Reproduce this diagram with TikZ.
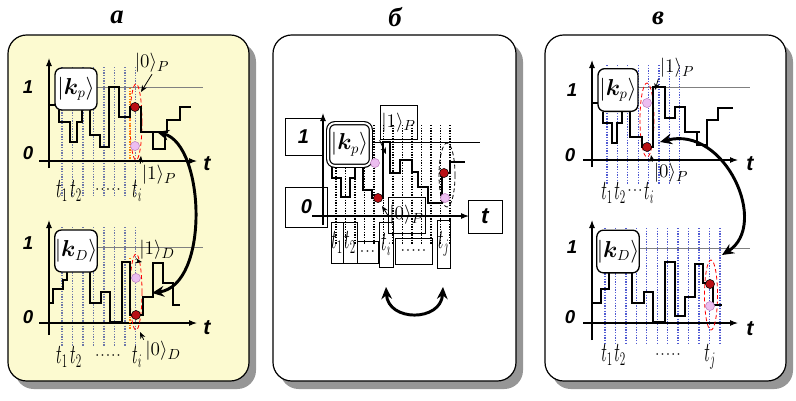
\documentclass[tikz,border=0pt]{standalone}
\usepackage{fontspec}
\usepackage{amsmath}
\usepackage{bm}
\usepackage{graphicx}
\usetikzlibrary{positioning,arrows.meta}
\newfontfamily\cyrfont{Liberation Serif}
\newfontfamily\axfont{Liberation Sans}
\definecolor{paneyellow}{RGB}{252,250,208}
\definecolor{dotred}{RGB}{185,15,20}
\definecolor{dotpink}{RGB}{236,190,240}
\definecolor{gridblue}{RGB}{80,90,210}
\definecolor{gridgray}{RGB}{110,120,170}
\definecolor{shadegray}{RGB}{150,150,150}
\newcommand{\tslot}[1]{\scalebox{0.58}[1]{$t_{#1}$}}
\newcommand{\dotrow}{{\fontsize{13}{15}\selectfont$\cdot\!\cdot\!\cdot\!\cdot\!\cdot$}}
\begin{document}
\begin{tikzpicture}[x=0.75pt,y=-0.75pt,
  panel/.style={draw=black,line width=0.9pt,rounded corners=14pt},
  panelshadow/.style={fill=shadegray,rounded corners=14pt},
  paneltitle/.style={font=\cyrfont\bfseries\itshape\fontsize{20}{24}\selectfont},
  axlab/.style={font=\axfont\bfseries\itshape\fontsize{14}{16}\selectfont},
  taxlab/.style={font=\axfont\bfseries\itshape\fontsize{16}{18}\selectfont},
  tickfont/.style={font=\fontsize{20}{22}\selectfont,inner sep=0pt},
  ketlab/.style={font=\fontsize{15}{17}\selectfont,inner sep=1pt},
  kbox/.style={draw,fill=white,line width=1pt,rounded corners=5pt,
    minimum width=31.5pt,minimum height=31.5pt,inner sep=0pt,font=\fontsize{16}{18}\selectfont},
  pulse/.style={line width=1.6pt},
  taxis/.style={-{Latex[length=6pt,width=4.5pt]},line width=0.8pt},
  onelevel/.style={gray,line width=0.5pt},
  slotline/.style={densely dotted,line width=1pt},
  winmark/.style={red,densely dashed,line width=0.6pt},
  reddot/.style={circle,draw=black,line width=0.4pt,fill=dotred,minimum size=6.8pt,inner sep=0pt},
  pinkdot/.style={circle,draw=violet!50,line width=0.4pt,fill=dotpink,minimum size=6.8pt,inner sep=0pt},
  ketarrow/.style={-{Stealth[length=5pt,width=4pt]},line width=0.6pt},
  swaparrow/.style={{Stealth[length=9pt,width=8pt]}-{Stealth[length=9pt,width=8pt]},line width=2.2pt},
  sbox/.style={draw,line width=0.6pt,inner sep=0pt}]
\useasboundingbox (0,0) rectangle (796,400);

% ---------- panel a
\fill[panelshadow] (15,43) rectangle (256,389);
\draw[panel,fill=paneyellow] (8,35) rectangle (249,381);
\node[paneltitle] (ta) at (117,17) {а};

% upper plot
\foreach \x in {62,72.5,...,136} \draw[slotline,gridgray] (\x,67) -- (\x,197);
\draw[onelevel] (97,87) -- (203,87);
\draw[taxis] (49,168) -- (49,58);
\draw[taxis] (39,161) -- (197,161);
\node[axlab] (a1u) at (28,87) {1};
\node[axlab] (a0u) at (28,153) {0};
\node[taxlab] (atu) at (207,164) {t};
\draw[winmark] (136,122) ellipse [x radius=6,y radius=38];
\draw[orange,densely dotted,line width=1pt] (130,88) -- (130,160);
\draw[pulse] (49,105) -- (56,105);
\draw[pulse] (59,110) -- (59,122) -- (70,122) -- (70,142) -- (77,142) -- (77,122) -- (82,122) -- (82,110);
\draw[pulse] (90,110) -- (90,135) -- (100,135) -- (100,147) -- (109,147) -- (109,87) -- (119,87)
  -- (119,117) -- (130,117) -- (130,107) -- (141,107) -- (141,132) -- (167,132) -- (167,120)
  -- (180,120) -- (180,107) -- (191,107);
\draw[pulse] (153,132) -- (153,149) -- (165,149) -- (165,132);
\node[kbox] (kpa) at (76,89) {$|\bm{k}_{p}\rangle$};
\node[reddot] (ra) at (135,107) {};
\node[pinkdot] (pa) at (135,146) {};
\node[ketlab] (za) at (152,63) {$|0\rangle_{P}$};
\node[ketlab] (oa) at (159,175) {$|1\rangle_{P}$};
\coordinate (zat) at (141,92);
\coordinate (oat) at (141,156);
\draw[ketarrow] (za.south) -- (zat);
\draw[ketarrow] (oa.north west) -- (oat);
\node[tickfont] (t1a) at (62,191) {\tslot{1}};
\node[tickfont] (t2a) at (76,191) {\tslot{2}};
\node[tickfont] (dta) at (108,190) {\dotrow};
\node[tickfont] (tia) at (137,191) {\tslot{i}};

% lower plot
\foreach \x in {62,72.5,...,136} \draw[slotline,gridgray] (\x,227) -- (\x,347);
\draw[onelevel] (93,247) -- (203,247);
\draw[taxis] (49,335) -- (49,220);
\draw[taxis] (39,323) -- (197,323);
\node[axlab] (a1d) at (28,243) {1};
\node[axlab] (a0d) at (28,317) {0};
\node[taxlab] (atd) at (207,328) {t};
\draw[winmark] (136,292) ellipse [x radius=6,y radius=38];
\draw[orange,densely dotted,line width=1pt] (130,258) -- (130,330);
\draw[pulse] (49,303) -- (53,303) -- (53,289) -- (63,289) -- (63,280) -- (67,280) -- (67,272);
\draw[pulse] (90,272) -- (90,303) -- (101,303) -- (101,292) -- (110,292) -- (110,322) -- (122,322)
  -- (122,262) -- (130,262) -- (130,315) -- (143,315) -- (143,297) -- (153,297) -- (153,263)
  -- (163,263) -- (163,283) -- (173,283) -- (173,305) -- (180,305);
\node[kbox] (kda) at (76,251) {$|\bm{k}_{D}\rangle$};
\node[pinkdot] (pd) at (136,278) {};
\node[reddot] (rd) at (136,315) {};
\node[ketlab] (od) at (157,250) {$|1\rangle_{D}$};
\node[ketlab] (zd) at (163,351) {$|0\rangle_{D}$};
\coordinate (odt) at (142,262);
\coordinate (zdt) at (140,332);
\draw[ketarrow] (od.south west) -- (odt);
\draw[ketarrow] (zd.north west) -- (zdt);
\node[tickfont] (t1d) at (62,357) {\tslot{1}};
\node[tickfont] (t2d) at (76,357) {\tslot{2}};
\node[tickfont] (dtd) at (108,356) {\dotrow};
\node[tickfont] (tid) at (137,357) {\tslot{i}};

\coordinate (sa1) at (157,132);
\coordinate (sa2) at (152,293);
\draw[swaparrow] (sa1) .. controls (205,145) and (210,285) .. (sa2);

% ---------- panel b
\fill[panelshadow] (280,43) rectangle (523,389);
\draw[panel,fill=white] (273,35) rectangle (516,381);
\node[paneltitle] (tb) at (395,17) {б};

\foreach \x in {336,345.5,...,456} \draw[slotline] (\x,125) -- (\x,245);
\draw[line width=0.6pt] (372,142) -- (480,142);
\draw[taxis] (323,225) -- (323,113);
\draw[taxis] (312,216) -- (469,216);
\node[sbox,font=\axfont\bfseries\itshape\fontsize{15}{17}\selectfont,
  minimum width=27.75pt,minimum height=27.75pt] (b1) at (303.5,136.5) {1};
\node[sbox,font=\axfont\bfseries\itshape\fontsize{15}{17}\selectfont,
  minimum width=32pt,minimum height=30pt] (b0) at (306.5,207) {0};
\node[sbox,font=\axfont\bfseries\itshape\fontsize{17}{19}\selectfont,
  minimum width=25.5pt,minimum height=24.75pt] (bt) at (485,216.5) {t};
\draw[black,densely dashed,line width=0.6pt] (447,175) ellipse [x radius=8,y radius=32];
\draw[pulse] (332,167) -- (332,178) -- (341,178) -- (341,197) -- (350,197) -- (350,178) -- (355,178) -- (355,167);
\draw[pulse] (363,167) -- (363,190) -- (372,190) -- (372,198) -- (383,198) -- (383,142) -- (390,142)
  -- (390,173) -- (400,173) -- (400,160) -- (412,160) -- (412,172) -- (418,172) -- (418,187)
  -- (428,187) -- (428,203) -- (442,203) -- (442,173) -- (450,173) -- (450,162) -- (465,162);
\node[kbox,double,double distance=1.4pt,line width=0.9pt,minimum width=32pt,minimum height=32pt]
  (kpb) at (349.5,144.5) {$|\bm{k}_{p}\rangle$};
\node[pinkdot] (pb1) at (375,163) {};
\node[reddot] (rb1) at (378,198) {};
\node[reddot] (rb2) at (444,173) {};
\node[pinkdot] (pb2) at (445,198) {};
\node[sbox,ketlab,minimum width=20pt,minimum height=26pt] (kb1) at (398.5,122.5) {$|1\rangle_{P}$};
\node[sbox,ketlab,minimum width=22pt,minimum height=27pt] (kb0) at (406.5,215) {$|0\rangle_{P}$};
\coordinate (kb1t) at (386,154);
\coordinate (kb0t) at (382,206);
\draw[ketarrow] (kb1.south west) -- (kb1t);
\draw[ketarrow] (kb0.west) -- (kb0t);
\node[sbox,font=\fontsize{22}{24}\selectfont,minimum width=9pt,minimum height=30.75pt] (t1b) at (337,242.5) {\tslot{1}};
\node[sbox,font=\fontsize{22}{24}\selectfont,minimum width=10.5pt,minimum height=30.75pt] (t2b) at (350,242.5) {\tslot{2}};
\node[sbox,minimum width=15.75pt,minimum height=16.5pt,font=\fontsize{12}{14}\selectfont] (d1b) at (367.5,252) {$\cdot\!\cdot\!\cdot$};
\node[sbox,font=\fontsize{22}{24}\selectfont,minimum width=10.5pt,minimum height=33.75pt] (tib) at (386,244.5) {\tslot{i}};
\node[sbox,minimum width=27.75pt,minimum height=19.5pt,font=\fontsize{12}{14}\selectfont] (d2b) at (413.5,251) {$\cdot\!\cdot\!\cdot\!\cdot\!\cdot$};
\node[sbox,font=\fontsize{22}{24}\selectfont,minimum width=9.75pt,minimum height=36pt] (tjb) at (443.5,244) {\tslot{j}};
\coordinate (sb1) at (386,287);
\coordinate (sb2) at (443,287);
\draw[swaparrow] (sb1) .. controls (388,322) and (441,322) .. (sb2);

% ---------- panel c
\fill[panelshadow] (552,43) rectangle (793,389);
\draw[panel,fill=white] (545,35) rectangle (786,381);
\node[paneltitle] (tc) at (658,18) {в};

% upper plot
\foreach \x in {607,617.4,...,681} \draw[slotline,gridblue] (\x,65) -- (\x,185);
\draw[onelevel] (638,87) -- (750,87);
\draw[taxis] (592,167) -- (592,60);
\draw[taxis] (583,160) -- (738,160);
\node[axlab] (c1u) at (572,90) {1};
\node[axlab] (c0u) at (570,155) {0};
\node[taxlab] (ctu) at (750,164) {t};
\draw[winmark] (647,120) ellipse [x radius=7,y radius=37];
\draw[pulse] (592,103) -- (599,103);
\draw[pulse] (603,112) -- (603,123) -- (612,123) -- (612,143) -- (617,143) -- (617,123) -- (622,123) -- (622,112);
\draw[pulse] (630,112) -- (630,137) -- (642,137) -- (642,147) -- (653,147) -- (653,87) -- (665,87)
  -- (665,118) -- (675,118) -- (675,107) -- (685,107) -- (685,132) -- (700,132);
\draw[pulse] (697,132) -- (697,145) -- (707,145) -- (707,120) -- (718,120) -- (718,108) -- (733,108);
\node[kbox,minimum width=30pt,minimum height=32pt] (kpc) at (618,90) {$|\bm{k}_{p}\rangle$};
\node[pinkdot] (pc) at (647,103) {};
\node[reddot] (rc) at (647,147) {};
\node[ketlab] (oc) at (677,68) {$|1\rangle_{P}$};
\node[ketlab] (zc) at (671,173) {$|0\rangle_{P}$};
\coordinate (oct) at (655,90);
\coordinate (zct) at (651,155);
\draw[ketarrow] (oc.south west) -- (oct);
\draw[ketarrow] (zc.north west) -- (zct);
\node[tickfont] (t1c) at (607,193) {\tslot{1}};
\node[tickfont] (t2c) at (620,193) {\tslot{2}};
\node[font=\fontsize{13}{15}\selectfont,inner sep=0pt] (dtc) at (635,191) {$\cdot\!\cdot\!\cdot$};
\node[tickfont] (tic) at (649,193) {\tslot{i}};

% lower plot
\foreach \x in {605,615.45,...,721.5} \draw[slotline,gridblue] (\x,228) -- (\x,343);
\draw[onelevel] (640,248) -- (750,248);
\draw[taxis] (592,340) -- (592,220);
\draw[taxis] (583,323) -- (738,323);
\node[axlab] (c1d) at (572,247) {1};
\node[axlab] (c0d) at (570,317) {0};
\node[taxlab] (ctd) at (750,329) {t};
\draw[winmark] (711,295) ellipse [x radius=6.5,y radius=35];
\draw[pulse] (592,303) -- (601,303) -- (601,289) -- (609,289) -- (609,273);
\draw[pulse] (632,273) -- (632,303) -- (644,303) -- (644,292) -- (653,292) -- (653,322) -- (665,322)
  -- (665,262) -- (675,262) -- (675,316) -- (685,316) -- (685,297) -- (695,297) -- (695,264)
  -- (703,264) -- (703,283) -- (713,283) -- (713,305) -- (722,305);
\node[kbox,minimum width=30pt,minimum height=32pt] (kdc) at (618,251.5) {$|\bm{k}_{D}\rangle$};
\node[reddot] (rcd) at (710,284) {};
\node[pinkdot] (pcd) at (710,306) {};
\node[tickfont] (t1e) at (607,355) {\tslot{1}};
\node[tickfont] (t2e) at (620,355) {\tslot{2}};
\node[tickfont] (dte) at (668,355) {\dotrow};
\node[tickfont] (tje) at (710,357) {\tslot{j}};

\coordinate (sc1) at (660,142);
\coordinate (sc2) at (722,255);
\draw[swaparrow] (sc1) .. controls (725,125) and (770,225) .. (sc2);
\end{tikzpicture}
\end{document}
